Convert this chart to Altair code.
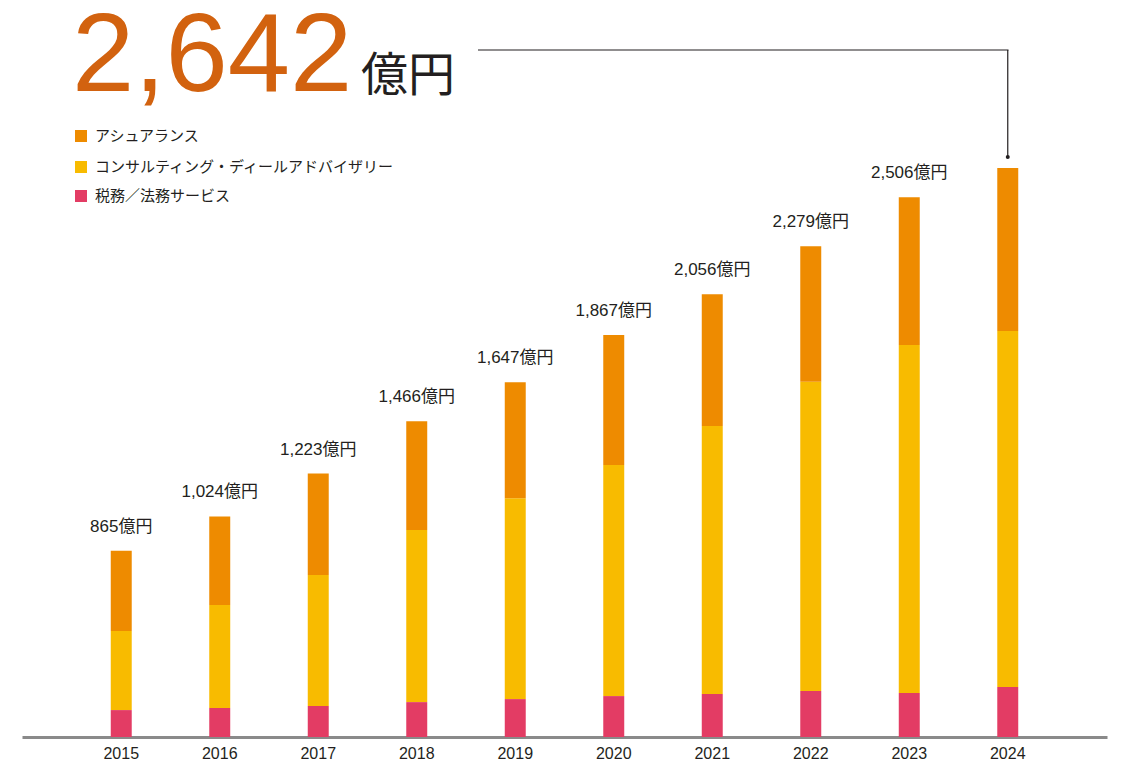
import altair as alt
import pandas as pd

years = ["2015", "2016", "2017", "2018", "2019", "2020", "2021", "2022", "2023", "2024"]
totals = [865, 1024, 1223, 1466, 1647, 1867, 2056, 2279, 2506, 2642]
tax_legal = [125, 135, 144, 162, 176, 190, 200, 214, 204, 232]
consulting = [367, 478, 608, 799, 933, 1073, 1244, 1435, 1616, 1653]
assurance = [t - a - b for t, a, b in zip(totals, tax_legal, consulting)]

series_names = ["アシュアランス", "コンサルティング・ディールアドバイザリー", "税務／法務サービス"]
series_colors = ["#EE8B00", "#F8BB00", "#E33C64"]
unit = "億円"

rows = []
for i, y in enumerate(years):
    rows.append({"year": y, "series": series_names[2], "value": tax_legal[i], "order": 0})
    rows.append({"year": y, "series": series_names[1], "value": consulting[i], "order": 1})
    rows.append({"year": y, "series": series_names[0], "value": assurance[i], "order": 2})
df = pd.DataFrame(rows)

tot_df = pd.DataFrame({"year": years, "total": totals,
                       "label": [f"{t:,}{unit}" for t in totals]})
label_df = tot_df.iloc[:-1]   # the latest year is shown as the headline instead
last_df = tot_df.tail(1)

W, H = 1085, 729
YMAX = 3385

xscale = alt.Scale(domain=years, paddingInner=0.787, paddingOuter=0.901)
yscale = alt.Scale(domain=[0, YMAX], nice=False, zero=True)

TXT = "#231f20"
LATIN = "Liberation Sans, 'Noto Sans CJK JP', sans-serif"
CJK = "'Noto Sans CJK JP', sans-serif"

bars = alt.Chart(df).mark_bar().encode(
    x=alt.X("year:O", scale=xscale, sort=years,
            axis=alt.Axis(title=None, labelAngle=0, ticks=False, domainColor="#8a8a8a",
                          domainWidth=3, labelFontSize=16, labelColor=TXT, labelFont=LATIN,
                          labelPadding=8, grid=False)),
    y=alt.Y("value:Q", stack="zero", scale=yscale, axis=None),
    color=alt.Color("series:N", scale=alt.Scale(domain=series_names, range=series_colors), legend=None),
    order=alt.Order("order:Q", sort="ascending"),
)

labels = alt.Chart(label_df).mark_text(baseline="middle", align="center", dy=-24,
                                       fontSize=17, font=LATIN, color=TXT).encode(
    x=alt.X("year:O", scale=xscale, sort=years),
    y=alt.Y("total:Q", scale=yscale),
    text="label:N",
)

headline = alt.Chart(last_df).mark_text(align="left", baseline="alphabetic", fontSize=112,
                                        font=LATIN, color="#D2620F").encode(
    x=alt.value(50), y=alt.value(83), text=alt.Text("total:Q", format=","))
headline_unit = alt.Chart(last_df).mark_text(align="left", baseline="alphabetic", fontSize=47,
                                             font=CJK, color=TXT).encode(
    x=alt.value(339), y=alt.value(83), text=alt.value(unit))

conn_h = alt.Chart(last_df).mark_rule(color=TXT, strokeWidth=1.2).encode(
    x=alt.value(456), x2=alt.value(986.5), y=alt.value(42))
conn_v = alt.Chart(last_df).mark_rule(color=TXT, strokeWidth=1.2).encode(
    x=alt.X("year:O", scale=xscale, sort=years), y=alt.value(42), y2=alt.value(149))
conn_dot = alt.Chart(last_df).mark_point(filled=True, color=TXT, size=16, opacity=1).encode(
    x=alt.X("year:O", scale=xscale, sort=years), y=alt.value(149))

legend_layers = []
legend_y = [128, 159, 188]
for name, col, ly in zip(series_names, series_colors, legend_y):
    legend_layers.append(
        alt.Chart(last_df).mark_square(size=144, color=col, filled=True, opacity=1).encode(
            x=alt.value(59), y=alt.value(ly)))
    legend_layers.append(
        alt.Chart(last_df).mark_text(align="left", baseline="middle", fontSize=15,
                                     font=CJK, color=TXT).encode(
            x=alt.value(73), y=alt.value(ly), text=alt.value(name)))

chart = alt.layer(bars, labels, headline, headline_unit, conn_h, conn_v, conn_dot,
                  *legend_layers).properties(
    width=W, height=H,
    autosize=alt.AutoSizeParams(type="none"),
    padding={"left": 14, "top": 0, "right": 2, "bottom": 30},
    background="white",
).configure_view(stroke=None)

chart.save("out.html", embed_options={"renderer": "svg", "actions": False})
